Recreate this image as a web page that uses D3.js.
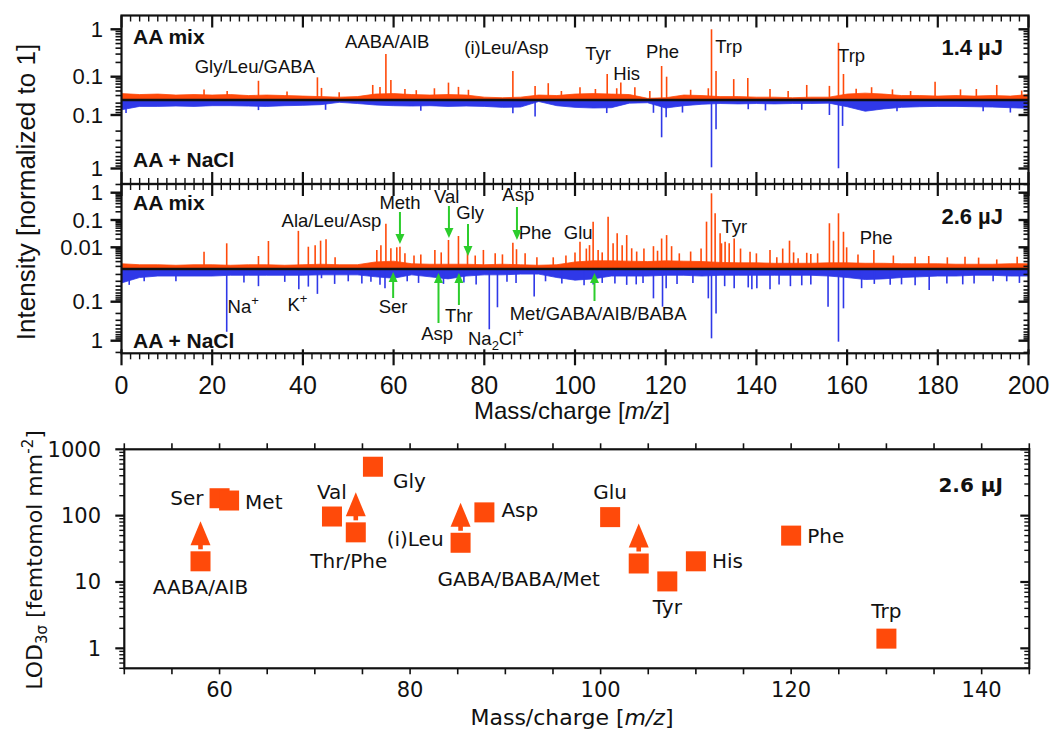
<!DOCTYPE html>
<html>
<head>
<meta charset="utf-8">
<script src="https://cdn.jsdelivr.net/npm/d3@7/dist/d3.min.js"></script>
<style>
    body { margin: 0; background: #fff; }
</style>
</head>
<body>
<svg id="chart" width="1053" height="731"></svg>
<script>
// ---- data ----

// noise floor, one value every 4 m/z from 0 to 200
var NOISE_STEP = 4;
var mixNoise14 = [0.044, 0.042, 0.043, 0.041, 0.042, 0.041, 0.042, 0.040, 0.041, 0.040, 0.039, 0.038, 0.037,
    0.038, 0.043, 0.044, 0.042, 0.041, 0.042, 0.041, 0.037, 0.036, 0.037, 0.041, 0.040, 0.043, 0.044, 0.043,
    0.042, 0.035, 0.036, 0.041, 0.040, 0.038, 0.038, 0.037, 0.037, 0.036, 0.037, 0.037, 0.043, 0.045, 0.043,
    0.040, 0.040, 0.039, 0.040, 0.039, 0.040, 0.039, 0.042];
var naclNoise14 = [0.080, 0.069, 0.069, 0.068, 0.069, 0.067, 0.067, 0.068, 0.069, 0.067, 0.066, 0.064, 0.058,
    0.061, 0.065, 0.067, 0.068, 0.067, 0.069, 0.068, 0.069, 0.072, 0.071, 0.056, 0.067, 0.072, 0.074, 0.073,
    0.060, 0.059, 0.074, 0.067, 0.063, 0.061, 0.062, 0.061, 0.062, 0.061, 0.061, 0.060, 0.070, 0.085, 0.077,
    0.072, 0.070, 0.069, 0.069, 0.070, 0.071, 0.073, 0.075];
var mixNoise26 = [0.0025, 0.0023, 0.0023, 0.0022, 0.0023, 0.0023, 0.0022, 0.0023, 0.0023, 0.0022, 0.0023, 0.0024,
    0.0023, 0.0023, 0.0029, 0.0031, 0.0025, 0.0024, 0.0024, 0.0024, 0.0023, 0.0024, 0.0023, 0.0022, 0.0023, 0.0029,
    0.0032, 0.0032, 0.0031, 0.0030, 0.0032, 0.0031, 0.0030, 0.0028, 0.0027, 0.0027, 0.0026, 0.0026, 0.0026, 0.0027,
    0.0027, 0.0026, 0.0026, 0.0025, 0.0025, 0.0025, 0.0024, 0.0024, 0.0024, 0.0025, 0.0025];
var naclNoise26 = [0.033, 0.024, 0.022, 0.022, 0.022, 0.022, 0.021, 0.021, 0.021, 0.021, 0.021, 0.0205, 0.0205,
    0.0205, 0.023, 0.025, 0.0205, 0.023, 0.026, 0.022, 0.0205, 0.0205, 0.0196, 0.0196, 0.024, 0.028, 0.026, 0.022,
    0.022, 0.022, 0.021, 0.021, 0.022, 0.021, 0.021, 0.021, 0.021, 0.021, 0.021, 0.022, 0.024, 0.027, 0.026,
    0.024, 0.023, 0.022, 0.022, 0.021, 0.021, 0.022, 0.022];

// peaks [m/z, intensity]
var mixPeaks14 = [[18.2, 0.054], [23.3, 0.050], [30.2, 0.082], [36.5, 0.049], [43.2, 0.097], [44.1, 0.058],
    [48.0, 0.047], [55.4, 0.067], [57.0, 0.061], [58.3, 0.30], [59.4, 0.085], [62.5, 0.055], [65.0, 0.052],
    [69.0, 0.057], [72.1, 0.075], [74.3, 0.061], [76.5, 0.053], [86.3, 0.132], [91.2, 0.064], [94.1, 0.073],
    [97.0, 0.050], [101.1, 0.060], [104.5, 0.055], [107.1, 0.114], [109.2, 0.057], [110.1, 0.075], [113.2, 0.060],
    [116.5, 0.050], [119.1, 0.168], [120.2, 0.100], [125.5, 0.053], [129.4, 0.057], [130.1, 1.0], [131.1, 0.132],
    [135.0, 0.089], [138.1, 0.094], [143.0, 0.055], [147.0, 0.050], [151.1, 0.067], [156.1, 0.064], [158.1, 0.52],
    [159.2, 0.114], [162.0, 0.056], [165.4, 0.060], [170.0, 0.054], [174.0, 0.050], [179.4, 0.078], [185.0, 0.054],
    [188.5, 0.055], [193.0, 0.067], [198.5, 0.051]];
var naclPeaks14 = [[1.0, 0.092], [30.2, 0.081], [45.0, 0.080], [66.0, 0.083], [86.3, 0.093], [91.2, 0.107],
    [107.0, 0.092], [117.3, 0.091], [119.1, 0.261], [120.1, 0.110], [123.7, 0.090], [130.1, 0.95], [131.1, 0.185],
    [138.2, 0.078], [142.0, 0.082], [150.0, 0.080], [156.1, 0.100], [158.1, 0.99], [159.0, 0.160], [171.0, 0.085],
    [190.0, 0.085], [196.0, 0.090]];
var mixPeaks26 = [[18.2, 0.0069], [23.2, 0.014], [30.2, 0.0048], [32.4, 0.017], [39.0, 0.040], [41.2, 0.0105],
    [42.7, 0.012], [43.9, 0.0175], [45.1, 0.0197], [47.1, 0.0043], [56.3, 0.0080], [57.2, 0.012], [58.3, 0.073],
    [59.4, 0.0092], [60.7, 0.010], [61.4, 0.0105], [62.5, 0.006], [64.5, 0.005], [66.0, 0.0055], [69.1, 0.008],
    [70.5, 0.0065], [72.1, 0.0185], [74.3, 0.026], [76.3, 0.0069], [78.0, 0.005], [79.8, 0.008], [82.4, 0.006],
    [84.0, 0.0055], [86.3, 0.0147], [87.1, 0.0085], [89.0, 0.006], [91.6, 0.0043], [95.2, 0.0043], [98.0, 0.005],
    [100.0, 0.0065], [101.1, 0.016], [102.5, 0.009], [103.2, 0.012], [104.0, 0.087], [105.1, 0.008], [106.0, 0.0065],
    [107.3, 0.132], [108.4, 0.014], [109.3, 0.033], [110.4, 0.012], [111.4, 0.028], [112.5, 0.0092], [113.6, 0.007],
    [115.2, 0.009], [117.3, 0.011], [118.2, 0.0075], [119.1, 0.021], [120.2, 0.028], [121.3, 0.011], [123.0, 0.006],
    [125.5, 0.007], [127.8, 0.009], [129.0, 0.087], [130.1, 0.95], [130.9, 0.176], [132.0, 0.033], [132.3, 0.014],
    [133.1, 0.016], [134.0, 0.014], [135.1, 0.021], [136.5, 0.009], [138.6, 0.0069], [140.0, 0.006], [143.0, 0.008],
    [144.5, 0.0043], [145.8, 0.009], [147.3, 0.0175], [148.2, 0.0065], [149.2, 0.0040], [151.1, 0.0063],
    [152.0, 0.0057], [153.5, 0.006], [156.1, 0.076], [157.0, 0.0175], [158.1, 0.176], [159.2, 0.037], [159.9, 0.010],
    [162.4, 0.0055], [165.9, 0.008], [170.2, 0.005], [175.0, 0.0045], [178.0, 0.0048], [182.1, 0.0043],
    [186.0, 0.0045], [189.0, 0.0042], [193.0, 0.0036], [197.5, 0.0045]];
var naclPeaks26 = [[1.7, 0.037], [5.0, 0.030], [12.0, 0.030], [23.2, 0.59], [27.0, 0.032], [30.2, 0.040],
    [36.0, 0.031], [39.1, 0.048], [41.2, 0.041], [43.2, 0.063], [44.1, 0.025], [47.0, 0.035], [50.0, 0.030],
    [53.0, 0.034], [55.0, 0.031], [57.0, 0.037], [58.1, 0.045], [63.0, 0.030], [65.5, 0.033], [71.0, 0.035],
    [75.5, 0.032], [78.2, 0.036], [81.1, 0.51], [82.9, 0.139], [85.0, 0.031], [87.0, 0.033], [91.0, 0.074],
    [93.5, 0.030], [97.1, 0.034], [102.0, 0.038], [104.0, 0.036], [106.0, 0.033], [108.8, 0.034], [111.4, 0.037],
    [113.5, 0.036], [115.0, 0.033], [117.3, 0.082], [119.3, 0.134], [120.1, 0.045], [122.5, 0.035], [126.0, 0.033],
    [129.4, 0.082], [130.1, 0.87], [131.1, 0.20], [133.0, 0.040], [135.1, 0.045], [138.2, 0.043], [139.0, 0.048],
    [140.1, 0.045], [143.0, 0.048], [145.0, 0.036], [147.5, 0.040], [150.0, 0.038], [152.0, 0.036], [155.8, 0.134],
    [158.1, 1.06], [159.2, 0.148], [163.2, 0.045], [166.0, 0.035], [169.5, 0.037], [172.0, 0.036], [175.0, 0.038],
    [178.1, 0.050], [182.0, 0.034], [185.5, 0.036], [188.0, 0.034], [192.2, 0.030], [195.2, 0.030], [198.0, 0.033]];

// limit of detection, 2.6 uJ
var lodNames = ['AABA/AIB', 'Ser', 'Met', 'Val', 'Thr/Phe', 'Gly', '(i)Leu', 'Asp', 'Glu',
    'GABA/BABA/Met', 'Tyr', 'His', 'Phe', 'Trp'];
var lodMz = [58, 60, 61, 71.8, 74.3, 76.1, 85.3, 87.8, 101, 104, 107, 110, 120, 130];
var lodValues = [20.5, 183, 169, 97, 56, 546, 39, 112, 95, 19, 10.2, 20.5, 50, 1.4];
var lodLowerBound = [true, false, false, false, true, false, true, false, false, true, false, false, false, false];

var mzTickLabels = [0, 20, 40, 60, 80, 100, 120, 140, 160, 180, 200];
var lodMzTickLabels = [60, 80, 100, 120, 140];
var lodTickLabels = [1, 10, 100, 1000];

// ---- style ----
var TOP_FONT = "'Liberation Sans', Arial, sans-serif",
    BOTTOM_FONT = "'DejaVu Sans', Verdana, sans-serif",
    ORANGE = '#ff4a0a',
    BLUE = '#2f38e8',
    GREEN = '#2ccd2c',
    INK = '#111';

var svg = d3.select('#chart');

var x = d3.scaleLinear().domain([0, 200]).range([121.5, 1028.5]);
var X0 = x.range()[0], X1 = x.range()[1];

// each half-panel: log scale anchored on two tick positions
var halves = [
    {noise: mixNoise14, peaks: mixPeaks14, color: ORANGE, refY: [76.7, 29.3], baseY: 100, edgeY: 15.5, labels: [1, 0.1]},
    {noise: naclNoise14, peaks: naclPeaks14, color: BLUE, refY: [115, 168.5], baseY: 100, edgeY: 184, labels: [0.1, 1]},
    {noise: mixNoise26, peaks: mixPeaks26, color: ORANGE, refY: [220, 192.7], baseY: 269, edgeY: 184, labels: [1, 0.1, 0.01]},
    {noise: naclNoise26, peaks: naclPeaks26, color: BLUE, refY: [301.7, 340.7], baseY: 269, edgeY: 353.3, labels: [0.1, 1]}
];

halves.forEach(function(h) {
    h.y = d3.scaleLog().domain([0.1, 1]).range(h.refY);
    drawSpectrum(h);
});

function drawSpectrum(h) {
    var g = svg.append('g');
    var area = d3.area()
        .x(function(d, i) { return x(i * NOISE_STEP); })
        .y0(h.baseY)
        .y1(function(d) { return h.y(d); });

    g.append('path')
        .datum(h.noise)
        .attr('d', area)
        .attr('fill', h.color)
        .attr('stroke', h.color)
        .attr('stroke-width', 0.8);

    g.selectAll('line')
        .data(h.peaks)
        .enter()
        .append('line')
        .attr('x1', function(d) { return x(d[0]); })
        .attr('x2', function(d) { return x(d[0]); })
        .attr('y1', h.baseY)
        .attr('y2', function(d) { return h.y(d[1]); })
        .attr('stroke', h.color)
        .attr('stroke-width', 1.6);
}

// baselines
[100, 269].forEach(function(y) {
    svg.append('line').attr('x1', X0).attr('x2', X1).attr('y1', y).attr('y2', y)
        .attr('stroke', INK).attr('stroke-width', 2.6);
});

// frames
svg.append('rect').attr('x', X0).attr('y', 15.5).attr('width', X1 - X0).attr('height', 184 - 15.5)
    .attr('fill', 'none').attr('stroke', INK).attr('stroke-width', 2.2);
svg.append('rect').attr('x', X0).attr('y', 184).attr('width', X1 - X0).attr('height', 353.3 - 184)
    .attr('fill', 'none').attr('stroke', INK).attr('stroke-width', 2.2);

function logTicks(vmin, vmax) {
    var out = [];
    for (var e = Math.floor(Math.log10(vmin)); Math.pow(10, e) <= vmax; e++) {
        for (var m = 1; m < 10; m++) {
            var v = m * Math.pow(10, e);
            if (v >= vmin && v <= vmax) out.push({v: v, major: m === 1});
        }
    }
    return out;
}

// y axes of the spectra
halves.forEach(function(h) {
    var a = h.y.invert(h.baseY), b = h.y.invert(h.edgeY);
    var ticks = logTicks(Math.min(a, b), Math.max(a, b));
    var g = svg.append('g').attr('stroke', INK).attr('stroke-width', 1.6);
    ticks.forEach(function(t) {
        var yy = h.y(t.v);
        g.append('line').attr('x1', X0).attr('x2', X0 - (t.major ? 11 : 6)).attr('y1', yy).attr('y2', yy)
            .attr('stroke-width', t.major ? 2.4 : 1.6);
        g.append('line').attr('x1', X1).attr('x2', X1 - (t.major ? 10 : 5)).attr('y1', yy).attr('y2', yy)
            .attr('stroke-width', t.major ? 2.4 : 1.6);
    });
    h.labels.forEach(function(v) {
        svg.append('text')
            .attr('x', 103).attr('y', h.y(v)).attr('dy', '0.35em')
            .attr('text-anchor', 'end')
            .attr('font-family', TOP_FONT).attr('font-size', 22).attr('fill', INK)
            .text(v);
    });
});

// m/z ticks: every 2, long every 20
function mzTicks(y, dir, crossing) {
    var g = svg.append('g').attr('stroke', INK);
    d3.range(0, 201, 2).forEach(function(m) {
        var major = m % 20 === 0;
        var len = major ? 12 : 6;
        g.append('line')
            .attr('x1', x(m)).attr('x2', x(m))
            .attr('y1', major && crossing ? y - 4 * dir : y)
            .attr('y2', y + dir * len)
            .attr('stroke-width', major ? 2.2 : 1.4);
    });
}
mzTicks(15.5, 1);
mzTicks(184, -1);
mzTicks(184, 1);
mzTicks(353.3, 1, true);

svg.append('g').selectAll('text')
    .data(mzTickLabels)
    .enter()
    .append('text')
    .attr('x', function(d) { return x(d); })
    .attr('y', 394)
    .attr('text-anchor', 'middle')
    .attr('font-family', TOP_FONT).attr('font-size', 25).attr('fill', INK)
    .text(function(d) { return d; });

var xt = svg.append('text')
    .attr('x', 572).attr('y', 419)
    .attr('text-anchor', 'middle')
    .attr('font-family', TOP_FONT).attr('font-size', 24).attr('fill', INK);
xt.append('tspan').text('Mass/charge [');
xt.append('tspan').attr('font-style', 'italic').text('m/z');
xt.append('tspan').text(']');

svg.append('text')
    .attr('transform', 'translate(35,192) rotate(-90)')
    .attr('text-anchor', 'middle')
    .attr('font-family', TOP_FONT).attr('font-size', 26).attr('fill', INK)
    .text('Intensity [normalized to 1]');

// ---- annotations of the spectra ----
function label(str, px, py, opts) {
    opts = opts || {};
    return svg.append('text')
        .attr('x', px).attr('y', py).attr('dy', '0.35em')
        .attr('text-anchor', opts.anchor || 'middle')
        .attr('font-family', opts.font || TOP_FONT)
        .attr('font-size', opts.size || 18.5)
        .attr('font-weight', opts.bold ? 'bold' : null)
        .attr('fill', INK)
        .text(str);
}

var bold = {anchor: 'start', bold: true, size: 21};
label('AA mix', 133, 37, bold);
label('AA + NaCl', 133, 160, bold);
label('AA mix', 133, 203, bold);
label('AA + NaCl', 133, 341, bold);
label('1.4 µJ', 1003, 47, {anchor: 'end', bold: true, size: 22});
label('2.6 µJ', 1003, 216, {anchor: 'end', bold: true, size: 22});

var spectrumLabels = [
    ['Gly/Leu/GABA', 29.4, 67, 'middle'], ['AABA/AIB', 58.6, 42, 'middle'], ['(i)Leu/Asp', 84.9, 48, 'middle'],
    ['Tyr', 105.1, 54, 'middle'], ['His', 111.4, 74, 'middle'], ['Phe', 119.3, 52, 'middle'],
    ['Trp', 130.9, 47, 'start'], ['Trp', 158.0, 56, 'start'],
    ['Ala/Leu/Asp', 46.3, 221, 'middle'], ['Meth', 61.4, 203, 'middle'], ['Val', 71.7, 197, 'middle'],
    ['Gly', 76.9, 213, 'middle'], ['Asp', 87.5, 195, 'middle'], ['Phe', 91.2, 233, 'middle'],
    ['Glu', 100.7, 233, 'middle'], ['Tyr', 132.3, 227, 'start'], ['Phe', 166.4, 238, 'middle'],
    ['Ser', 59.9, 307, 'middle'], ['Asp', 69.6, 334, 'middle'], ['Thr', 74.4, 316, 'middle'],
    ['Met/GABA/AIB/BABA', 105.1, 314, 'middle']
];
spectrumLabels.forEach(function(l) {
    label(l[0], x(l[1]), l[2], {anchor: l[3]});
});

// ions with super/subscripts
function ion(parts, px, py) {
    var t = label('', px, py, {anchor: 'start'});
    parts.forEach(function(p) {
        var s = t.append('tspan').text(p[0]);
        if (p[1] === 'sup') s.attr('font-size', 13).attr('dy', -8);
        if (p[1] === 'sub') s.attr('font-size', 13).attr('dy', 5);
        if (p[1] === 'back') s.attr('dy', p[2]);
    });
    return t;
}
ion([['Na'], ['+', 'sup']], x(23.4), 307);
ion([['K'], ['+', 'sup']], x(36.6), 305);
ion([['Na'], ['2', 'sub'], ['Cl', 'back', -5], ['+', 'sup']], x(76.4), 339);

// green arrows: [m/z, tail y, head y]
var greenArrows = [[61.4, 212, 244], [72.2, 206, 238], [76.4, 224, 256], [87.2, 207, 240],
    [59.9, 298, 272], [69.9, 323, 273], [74.4, 305, 273], [104.3, 301, 273]];
greenArrows.forEach(function(a) {
    var ax = x(a[0]), dir = a[2] > a[1] ? 1 : -1;
    svg.append('line')
        .attr('x1', ax).attr('x2', ax).attr('y1', a[1]).attr('y2', a[2] - dir * 6)
        .attr('stroke', GREEN).attr('stroke-width', 2);
    svg.append('path')
        .attr('d', 'M' + (ax - 4.5) + ',' + (a[2] - dir * 10) + 'L' + (ax + 4.5) + ',' + (a[2] - dir * 10) +
            'L' + ax + ',' + a[2] + 'Z')
        .attr('fill', GREEN);
});

// ---- limit of detection panel ----
var xL = d3.scaleLinear().domain([50, 145]).range([124.3, 1029.3]);
var yL = d3.scaleLog().domain([0.5, 1000]).range([668.3, 449.3]);
var L0 = xL.range()[0], L1 = xL.range()[1], T0 = yL.range()[1], B0 = yL.range()[0];

svg.append('rect').attr('x', L0).attr('y', T0).attr('width', L1 - L0).attr('height', B0 - T0)
    .attr('fill', 'none').attr('stroke', INK).attr('stroke-width', 2.2);

var lg = svg.append('g').attr('stroke', INK).attr('stroke-width', 1.6);
d3.range(50, 146, 5).forEach(function(m) {
    lg.append('line').attr('x1', xL(m)).attr('x2', xL(m)).attr('y1', B0).attr('y2', B0 + 6);
    lg.append('line').attr('x1', xL(m)).attr('x2', xL(m)).attr('y1', T0).attr('y2', T0 - 6);
});
logTicks(0.5, 1000).forEach(function(t) {
    var yy = yL(t.v);
    lg.append('line').attr('x1', L0).attr('x2', L0 - (t.major ? 9 : 5)).attr('y1', yy).attr('y2', yy)
        .attr('stroke-width', t.major ? 2.2 : 1.4);
    lg.append('line').attr('x1', L1).attr('x2', L1 - (t.major ? 9 : 5)).attr('y1', yy).attr('y2', yy)
        .attr('stroke-width', t.major ? 2.2 : 1.4);
});

lodMzTickLabels.forEach(function(m) {
    label(m, xL(m), 690, {font: BOTTOM_FONT, size: 21});
});
lodTickLabels.forEach(function(v) {
    label(v, 101, yL(v), {font: BOTTOM_FONT, size: 21, anchor: 'end'});
});

var bx = svg.append('text')
    .attr('x', 572).attr('y', 725)
    .attr('text-anchor', 'middle')
    .attr('font-family', BOTTOM_FONT).attr('font-size', 22).attr('fill', INK);
bx.append('tspan').text('Mass/charge [');
bx.append('tspan').attr('font-style', 'italic').text('m/z');
bx.append('tspan').text(']');

var by = svg.append('text')
    .attr('transform', 'translate(42,560) rotate(-90)')
    .attr('text-anchor', 'middle')
    .attr('font-family', BOTTOM_FONT).attr('font-size', 22).attr('fill', INK);
by.append('tspan').text('LOD');
by.append('tspan').attr('font-size', 15).attr('dy', 5).text('3σ');
by.append('tspan').attr('dy', -5).text(' [femtomol mm');
by.append('tspan').attr('font-size', 15).attr('dy', -9).text('-2');
by.append('tspan').attr('dy', 9).text(']');

label('2.6 µJ', 1003, 485, {anchor: 'end', bold: true, size: 20, font: BOTTOM_FONT});

// label offsets relative to the marker
var lodLabelLayout = {
    'AABA/AIB': [0, 26, 'middle'], 'Ser': [-16, 0, 'end'], 'Met': [16, 1, 'start'], 'Val': [0, -25, 'middle'],
    'Thr/Phe': [-7, 29, 'middle'], 'Gly': [20, 14, 'start'], '(i)Leu': [-17, -4, 'end'], 'Asp': [17, -2, 'start'],
    'Glu': [0, -25, 'middle'], 'GABA/BABA/Met': [-120, 16, 'middle'], 'Tyr': [0, 26, 'middle'],
    'His': [16, 0, 'start'], 'Phe': [16, 0, 'start'], 'Trp': [0, -28, 'middle']
};

var SQUARE = 20;
lodNames.forEach(function(name, i) {
    var px = xL(lodMz[i]), py = yL(lodValues[i]);
    if (lodLowerBound[i]) {
        var tip = py - 40;
        svg.append('rect').attr('x', px - 2.3).attr('y', tip + 20).attr('width', 4.6)
            .attr('height', py - SQUARE / 2 - 2 - (tip + 20)).attr('fill', ORANGE);
        svg.append('path')
            .attr('d', 'M' + (px - 10) + ',' + (tip + 24) + 'L' + (px + 10) + ',' + (tip + 24) +
                'L' + px + ',' + tip + 'Z')
            .attr('fill', ORANGE);
    }
    svg.append('rect')
        .attr('x', px - SQUARE / 2).attr('y', py - SQUARE / 2)
        .attr('width', SQUARE).attr('height', SQUARE)
        .attr('fill', ORANGE);
    var lay = lodLabelLayout[name];
    label(name, px + lay[0], py + lay[1], {anchor: lay[2], font: BOTTOM_FONT, size: 20});
});
</script>
</body>
</html>
